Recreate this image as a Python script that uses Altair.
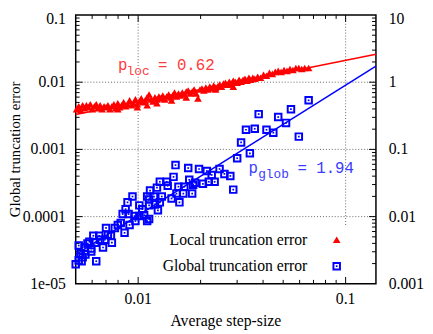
import altair as alt
import pandas as pd

# ---------------- data ----------------
# Local truncation error (plotted against the right axis)
loc_step = [0.00505, 0.00517, 0.00528, 0.00540, 0.00551, 0.00563, 0.00576, 0.00588, 0.00601, 0.00615,
            0.00628, 0.00642, 0.00656, 0.00670, 0.00685, 0.00700, 0.00715, 0.00731, 0.00747, 0.00764,
            0.00780, 0.00798, 0.00815, 0.00833, 0.00851, 0.00870, 0.00889, 0.00909, 0.00929, 0.00949,
            0.00970, 0.00991, 0.01013, 0.01035, 0.01058, 0.01081, 0.01105, 0.01129, 0.01154, 0.01179,
            0.01205, 0.01232, 0.01259, 0.01286, 0.01314, 0.01343, 0.01373, 0.01403, 0.01434, 0.01465,
            0.01497, 0.01530, 0.01564, 0.01598, 0.01633, 0.01669, 0.01706, 0.01743, 0.01782, 0.01821,
            0.01861, 0.01902, 0.01943, 0.01986, 0.02030, 0.02074, 0.02120, 0.02166, 0.02214, 0.02262,
            0.02312, 0.02363, 0.02415, 0.02468, 0.02522, 0.02577, 0.02634, 0.02692, 0.02751, 0.02812,
            0.02873, 0.02936, 0.03001, 0.03066, 0.03134, 0.03203, 0.03273, 0.03345, 0.03418, 0.03493,
            0.03570, 0.03648, 0.03769, 0.03893, 0.04022, 0.04155, 0.04292, 0.04434, 0.04581, 0.04732,
            0.04888, 0.05050, 0.05218, 0.05393, 0.05572, 0.05756, 0.05948, 0.06145, 0.06349, 0.06633,
            0.02363, 0.02873, 0.01105, 0.00798, 0.00991, 0.01449, 0.01706, 0.01232]
loc_err = [0.397, 0.439, 0.384, 0.454, 0.410, 0.454, 0.424, 0.469, 0.397, 0.439,
           0.469, 0.410, 0.454, 0.397, 0.439, 0.424, 0.454, 0.397, 0.439, 0.469,
           0.410, 0.485, 0.424, 0.454, 0.502, 0.439, 0.469, 0.537, 0.454, 0.485,
           0.555, 0.469, 0.519, 0.574, 0.502, 0.537, 0.594, 0.657, 0.555, 0.519,
           0.594, 0.555, 0.614, 0.574, 0.635, 0.555, 0.614, 0.657, 0.594, 0.635,
           0.703, 0.614, 0.679, 0.635, 0.703, 0.657, 0.727, 0.751, 0.679, 0.727,
           0.777, 0.679, 0.574, 0.777, 0.804, 0.751, 0.831, 0.777, 0.860, 0.804,
           0.889, 0.831, 0.860, 0.919, 0.860, 0.951, 0.983, 0.919, 1.017, 0.951,
           1.052, 1.017, 0.983, 1.088, 1.017, 1.088, 1.125, 1.052, 1.163, 1.088,
           1.163, 1.125, 1.203, 1.163, 1.287, 1.244, 1.376, 1.331, 1.423, 1.472,
           1.423, 1.522, 1.472, 1.574, 1.522, 1.628, 1.628, 1.574, 1.628, 1.628,
           0.777, 0.860, 0.454, 0.397, 0.424, 0.537, 0.594, 0.485]

# Global truncation error (left axis)
glob_step = [0.06633, 0.05452, 0.03810, 0.04732, 0.05161, 0.03309, 0.03648, 0.04155, 0.04482, 0.05948,
             0.03134, 0.03455, 0.03001, 0.02781, 0.02873, 0.01514, 0.01743, 0.01965, 0.02143, 0.02262,
             0.02468, 0.02605, 0.01481, 0.01272, 0.01373, 0.01763, 0.01881, 0.02052, 0.02190, 0.02337,
             0.01564, 0.01669, 0.01141, 0.01232, 0.01651, 0.01821, 0.01192, 0.01300, 0.01449, 0.01129,
             0.01581, 0.01272, 0.01205, 0.01245, 0.01129, 0.00939, 0.00889, 0.01013, 0.01105, 0.01129,
             0.00842, 0.00899, 0.00960, 0.01013, 0.01069, 0.00970, 0.01105, 0.00824, 0.00772, 0.00700,
             0.00860, 0.00739, 0.00608, 0.00649, 0.00692, 0.00747, 0.00582, 0.00621, 0.00517, 0.00677,
             0.00594, 0.00557, 0.00540, 0.00517, 0.00628, 0.00500, 0.00534, 0.00594, 0.01530, 0.01841,
             0.01388, 0.00551, 0.00570, 0.00656, 0.00715, 0.00798, 0.00528, 0.00870, 0.01047, 0.00909]
glob_err = [5.37e-3, 3.97e-3, 3.35e-3, 3.03e-3, 2.48e-3, 1.96e-3, 2.03e-3, 1.96e-3, 1.77e-3, 1.55e-3,
            1.27e-3, 8.74e-4, 7.39e-4, 4.03e-4, 2.52e-4, 5.84e-4, 5.28e-4, 5.11e-4, 4.77e-4, 4.17e-4,
            5.11e-4, 4.32e-4, 3.90e-4, 3.30e-4, 3.30e-4, 3.53e-4, 3.19e-4, 3.08e-4, 3.30e-4, 3.30e-4,
            2.79e-4, 2.79e-4, 2.44e-4, 2.70e-4, 2.20e-4, 2.20e-4, 1.99e-4, 1.99e-4, 1.86e-4, 1.80e-4,
            1.63e-4, 1.63e-4, 1.52e-4, 1.24e-4, 9.19e-5, 1.99e-4, 1.63e-4, 1.47e-4, 1.99e-4, 1.47e-4,
            1.09e-4, 1.09e-4, 1.02e-4, 1.02e-4, 1.05e-4, 8.60e-5, 8.60e-5, 8.04e-5, 6.79e-5, 6.79e-5,
            5.74e-5, 5.19e-5, 5.19e-5, 5.19e-5, 4.54e-5, 4.10e-5, 4.24e-5, 4.10e-5, 3.71e-5, 3.47e-5,
            3.03e-5, 2.74e-5, 2.48e-5, 2.24e-5, 2.17e-5, 1.96e-5, 2.17e-5, 3.35e-5, 2.20e-4, 2.98e-4,
            2.88e-4, 3.47e-5, 3.97e-5, 4.54e-5, 5.37e-5, 7.52e-5, 2.84e-5, 1.29e-4, 1.29e-4, 7.52e-5]

# fitted power laws (endpoints at the x-range limits)
fit_step = [0.005, 0.14]
loc_fit = [0.331, 2.61]
glob_fit = [2.71e-5, 0.0174]

# axis ticks / labels / grid
x_major = [0.01, 0.1]
x_major_text = ["0.01", "0.1"]
x_minor = [0.006, 0.007, 0.008, 0.009, 0.02, 0.03, 0.04, 0.05, 0.06, 0.07, 0.08, 0.09]
yl_labels = [1e-5, 1e-4, 1e-3, 1e-2, 1e-1]
yl_text = ["1e-05", "0.0001", "0.001", "0.01", "0.1"]
yr_labels = [0.001, 0.01, 0.1, 1, 10]
yr_text = ["0.001", "0.01", "0.1", "1", "10"]
y_major = [1e-4, 1e-3, 1e-2]
y_minor = [2e-5, 3e-5, 4e-5, 5e-5, 6e-5, 7e-5, 8e-5, 9e-5,
           2e-4, 3e-4, 4e-4, 5e-4, 6e-4, 7e-4, 8e-4, 9e-4,
           2e-3, 3e-3, 4e-3, 5e-3, 6e-3, 7e-3, 8e-3, 9e-3,
           2e-2, 3e-2, 4e-2, 5e-2, 6e-2, 7e-2, 8e-2, 9e-2]
grid_bottom = 7.0e-5
x_title = "Average step-size"
y_title = "Global truncation error"
legend_labels = ["Local truncation error", "Global truncation error"]

# ---------------- chart ----------------
W, H = 306, 274
SERIF = "Liberation Serif"
MONO = "Liberation Mono"
RED = "#ff0000"
BLUE = "#0000ff"

xs = alt.Scale(type="log", domain=[0.005, 0.14], nice=False)
ysl = alt.Scale(type="log", domain=[1e-5, 0.1], nice=False)
ysr = alt.Scale(type="log", domain=[0.001, 10], nice=False)

X = lambda f: alt.X(f, scale=xs, axis=None)
YL = lambda f: alt.Y(f, scale=ysl, axis=None)
YR = lambda f: alt.Y(f, scale=ysr, axis=None)

glob_df = pd.DataFrame({"x": glob_step, "y": glob_err})
loc_df = pd.DataFrame({"x": loc_step, "y": loc_err})
fitg_df = pd.DataFrame({"x": fit_step, "y": glob_fit})
fitl_df = pd.DataFrame({"x": fit_step, "y": loc_fit})
one = pd.DataFrame({"a": [0]})

# blue squares
glob_pts = alt.Chart(glob_df).mark_point(shape="square", filled=False, size=44, strokeWidth=2,
                                         color=BLUE, opacity=1).encode(x=X("x:Q"), y=YL("y:Q"))
glob_dot = alt.Chart(glob_df).mark_point(shape="square", filled=True, size=3, color=BLUE,
                                         opacity=1).encode(x=X("x:Q"), y=YL("y:Q"))
glob_line = alt.Chart(fitg_df).mark_line(color=BLUE, strokeWidth=1.5).encode(x=X("x:Q"), y=YL("y:Q"))

# grid
hgrid = alt.Chart(pd.DataFrame({"y": y_major, "x0": [0.005] * 3, "x1": [0.14] * 3})).mark_rule(
    color="#666666", strokeDash=[1, 2], strokeWidth=1).encode(y=YL("y:Q"), x=X("x0:Q"), x2="x1:Q")
vgrid = alt.Chart(pd.DataFrame({"x": x_major, "y0": [0.1] * 2, "y1": [grid_bottom] * 2})).mark_rule(
    color="#666666", strokeDash=[1, 2], strokeWidth=1).encode(x=X("x:Q"), y=YL("y0:Q"), y2="y1:Q")

# inward ticks
def ytick(vals, x0, x1):
    return alt.Chart(pd.DataFrame({"y": vals})).mark_rule(color="black", strokeWidth=1).encode(
        y=YL("y:Q"), x=alt.value(x0), x2=alt.value(x1))

def xtick(vals, y0, y1):
    return alt.Chart(pd.DataFrame({"x": vals})).mark_rule(color="black", strokeWidth=1).encode(
        x=X("x:Q"), y=alt.value(y0), y2=alt.value(y1))

ticks = [ytick(y_major, 0, 7), ytick(y_minor, 0, 4), ytick(y_major, W, W - 7), ytick(y_minor, W, W - 4),
         xtick(x_major, H, H - 7), xtick(x_minor, H, H - 4), xtick(x_major, 0, 7), xtick(x_minor, 0, 4)]

# tick labels and axis titles
def ylabels(vals, texts, dy):
    return alt.Chart(pd.DataFrame({"y": vals, "t": texts})).mark_text(
        align="right", baseline="middle", font=SERIF, fontSize=16, color="black", dy=dy).encode(
        y=YL("y:Q"), x=alt.value(-10), text="t:N")

ylab = ylabels(yl_labels[:-1], yl_text[:-1], 0)
ylab_top = ylabels(yl_labels[-1:], yl_text[-1:], 4)
xlab = alt.Chart(pd.DataFrame({"x": x_major, "t": x_major_text})).mark_text(
    align="center", baseline="alphabetic", font=SERIF, fontSize=16, color="black").encode(
    x=X("x:Q"), y=alt.value(H + 21), text="t:N")
xtit = alt.Chart(one).mark_text(align="center", baseline="alphabetic", font=SERIF, fontSize=16,
                                color="black").encode(
    x=alt.value(W / 2), y=alt.value(H + 43), text=alt.value(x_title))
ytit = alt.Chart(one).mark_text(align="center", baseline="alphabetic", font=SERIF, fontSize=15,
                                color="black", angle=270).encode(
    x=alt.value(-57), y=alt.value(H / 2), text=alt.value(y_title))

# legend (text on the left, symbol on the right)
leg_txt1 = alt.Chart(one).mark_text(align="right", baseline="middle", font=SERIF, fontSize=16,
                                    color="black").encode(
    x=alt.value(236), y=alt.value(229), text=alt.value(legend_labels[0]))
leg_txt2 = alt.Chart(one).mark_text(align="right", baseline="middle", font=SERIF, fontSize=16,
                                    color="black").encode(
    x=alt.value(236), y=alt.value(256), text=alt.value(legend_labels[1]))
leg_sym1 = alt.Chart(one).mark_point(shape="triangle-up", filled=True, size=60, color=RED,
                                     opacity=1).encode(x=alt.value(266), y=alt.value(229))
leg_sym2 = alt.Chart(one).mark_point(shape="square", filled=False, size=44, strokeWidth=2,
                                     color=BLUE, opacity=1).encode(x=alt.value(266), y=alt.value(256))
leg_sym2b = alt.Chart(one).mark_point(shape="square", filled=True, size=3, color=BLUE,
                                      opacity=1).encode(x=alt.value(266), y=alt.value(256))

# annotations p_loc / p_glob
def txt(s, x, y, size, color):
    return alt.Chart(one).mark_text(align="left", baseline="alphabetic", font=MONO, fontSize=size,
                                    color=color).encode(x=alt.value(x), y=alt.value(y),
                                                        text=alt.value(s))

LRED = "#ff3b3b"
LBLUE = "#3b3bff"
annots = [txt("p", 43, 56, 16, LRED), txt("loc", 52, 61, 13, LRED), txt("= 0.62", 84, 56, 16, LRED),
          txt("p", 176, 161, 16, LBLUE), txt("glob", 186, 166, 13, LBLUE),
          txt("= 1.94", 226, 161, 16, LBLUE)]

left = alt.layer(hgrid, vgrid, *ticks, glob_pts, glob_line, glob_dot, ylab, ylab_top, xlab, xtit, ytit,
                 leg_txt1, leg_txt2, leg_sym1, leg_sym2, leg_sym2b, *annots)

# red triangles on the right-hand scale
loc_pts = alt.Chart(loc_df).mark_point(shape="triangle-up", filled=True, size=60, color=RED,
                                       opacity=1).encode(x=X("x:Q"), y=YR("y:Q"))
loc_line = alt.Chart(fitl_df).mark_line(color=RED, strokeWidth=1.5).encode(x=X("x:Q"), y=YR("y:Q"))

def yrlabels(vals, texts, dy):
    return alt.Chart(pd.DataFrame({"y": vals, "t": texts})).mark_text(
        align="left", baseline="middle", font=SERIF, fontSize=16, color="black", dy=dy).encode(
        y=YR("y:Q"), x=alt.value(W + 13), text="t:N")

yrlab = yrlabels(yr_labels[:-1], yr_text[:-1], 0)
yrlab_top = yrlabels(yr_labels[-1:], yr_text[-1:], 4)
right = alt.layer(loc_pts, loc_line, yrlab, yrlab_top)

chart = alt.layer(left, right).resolve_scale(y="independent").properties(
    width=W, height=H,
    autosize=alt.AutoSizeParams(type="none"),
    padding={"left": 69, "top": 4, "right": 50, "bottom": 47},
).configure_view(stroke="black", strokeWidth=1.5)

chart.save("out.html", embed_options={"renderer": "svg", "actions": False})
